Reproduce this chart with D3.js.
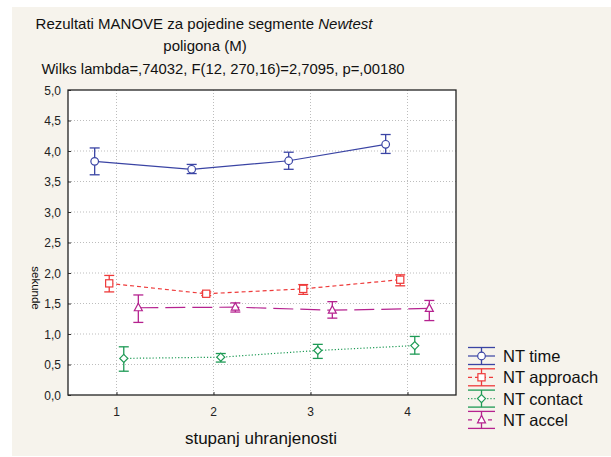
<!DOCTYPE html>
<html>
<head>
<meta charset="utf-8">
<script src="https://cdn.jsdelivr.net/npm/d3@7"></script>
<style>
  body { margin: 0; background: #fff; }
  svg { display: block; font-family: "Liberation Sans", Arial, sans-serif; }
</style>
</head>
<body>
<div id="chart"></div>
<script>
// data
const groups = [1, 2, 3, 4]
const seriesNames = ["NT time", "NT approach", "NT contact", "NT accel"]
const timeMean = [3.83, 3.70, 3.84, 4.11]
const timeLow = [3.61, 3.63, 3.70, 3.96]
const timeHigh = [4.05, 3.78, 3.98, 4.27]
const approachMean = [1.83, 1.66, 1.74, 1.89]
const approachLow = [1.69, 1.63, 1.65, 1.79]
const approachHigh = [1.96, 1.69, 1.81, 1.97]
const contactMean = [0.60, 0.62, 0.73, 0.81]
const contactLow = [0.39, 0.54, 0.60, 0.67]
const contactHigh = [0.79, 0.68, 0.83, 0.96]
const accelMean = [1.43, 1.44, 1.39, 1.42]
const accelLow = [1.19, 1.36, 1.26, 1.22]
const accelHigh = [1.64, 1.51, 1.53, 1.55]
const yTicks = [0, 0.5, 1, 1.5, 2, 2.5, 3, 3.5, 4, 4.5, 5]
const yTickLabels = ["0,0", "0,5", "1,0", "1,5", "2,0", "2,5", "3,0", "3,5", "4,0", "4,5", "5,0"]

const W = 611, H = 457
const plot = {left: 68, top: 90, right: 456, bottom: 395}

const svg = d3.select("#chart").append("svg")
  .attr("width", W).attr("height", H)

// cream panel
svg.append("rect").attr("x", 12).attr("y", 7).attr("width", W - 12).attr("height", 449)
  .attr("fill", "#f6f3ec")

const x = d3.scaleLinear().domain([0.5, 4.5]).range([plot.left, plot.right])
const y = d3.scaleLinear().domain([0, 5]).range([plot.bottom, plot.top])

svg.append("rect")
  .attr("x", plot.left).attr("y", plot.top)
  .attr("width", plot.right - plot.left).attr("height", plot.bottom - plot.top)
  .attr("fill", "#fff")

// grid
svg.append("g").selectAll("line").data(yTicks.slice(1, -1)).join("line")
  .attr("x1", plot.left).attr("x2", plot.right)
  .attr("y1", d => y(d)).attr("y2", d => y(d))
  .attr("stroke", "#bdbdbd").attr("stroke-width", 1).attr("stroke-dasharray", "1,2")
svg.append("g").selectAll("line").data(groups).join("line")
  .attr("y1", plot.top).attr("y2", plot.bottom)
  .attr("x1", d => x(d)).attr("x2", d => x(d))
  .attr("stroke", "#bdbdbd").attr("stroke-width", 1).attr("stroke-dasharray", "1,2")

// axes
const yAxis = svg.append("g").attr("transform", `translate(${plot.left},0)`)
  .call(d3.axisRight(y).tickValues(yTicks).tickSize(3).tickFormat((d, i) => ""))
yAxis.select(".domain").remove()
yAxis.selectAll("line").attr("stroke", "#333")
svg.append("g").selectAll("text").data(yTicks).join("text")
  .attr("x", plot.left - 7).attr("y", d => y(d) + 4.5)
  .attr("text-anchor", "end").attr("font-size", 12).attr("fill", "#222")
  .text((d, i) => yTickLabels[i])

const xAxis = svg.append("g").attr("transform", `translate(0,${plot.bottom})`)
  .call(d3.axisTop(x).tickValues(groups).tickSize(3).tickFormat(""))
xAxis.select(".domain").remove()
xAxis.selectAll("line").attr("stroke", "#333")
svg.append("g").selectAll("text").data(groups).join("text")
  .attr("x", d => x(d)).attr("y", plot.bottom + 21)
  .attr("text-anchor", "middle").attr("font-size", 12).attr("fill", "#222")
  .text(d => d)

svg.append("rect")
  .attr("x", plot.left).attr("y", plot.top)
  .attr("width", plot.right - plot.left).attr("height", plot.bottom - plot.top)
  .attr("fill", "none").attr("stroke", "#222").attr("stroke-width", 1.3)

// titles
const title = svg.append("text").attr("text-anchor", "middle").attr("font-size", 15).attr("fill", "#111")
title.append("tspan").attr("x", 204).attr("y", 29).text("Rezultati MANOVE za pojedine segmente ")
title.append("tspan").attr("font-style", "italic").text("Newtest")
svg.append("text").attr("x", 205).attr("y", 51).attr("text-anchor", "middle")
  .attr("font-size", 15).attr("fill", "#111").text("poligona (M)")
svg.append("text").attr("x", 223).attr("y", 74).attr("text-anchor", "middle")
  .attr("font-size", 14.8).attr("fill", "#111")
  .text("Wilks lambda=,74032, F(12, 270,16)=2,7095, p=,00180")

svg.append("text").attr("x", 261).attr("y", 444).attr("text-anchor", "middle")
  .attr("font-size", 17).attr("fill", "#111").text("stupanj uhranjenosti")
svg.append("text").attr("transform", "translate(32,288) rotate(90)").attr("text-anchor", "middle")
  .attr("font-size", 11.5).attr("fill", "#111").text("sekunde")

// series
const series = [
  {name: seriesNames[0], mean: timeMean, low: timeLow, high: timeHigh, color: "#3a44a4", dash: null, shape: "circle", off: -0.225},
  {name: seriesNames[1], mean: approachMean, low: approachLow, high: approachHigh, color: "#ee3a3a", dash: "4,3", shape: "square", off: -0.075},
  {name: seriesNames[2], mean: contactMean, low: contactLow, high: contactHigh, color: "#1e9a55", dash: "1.2,2", shape: "diamond", off: 0.075},
  {name: seriesNames[3], mean: accelMean, low: accelLow, high: accelHigh, color: "#b5228f", dash: "20,7", shape: "triangle", off: 0.225}
]

function drawMarker(g, shape, cx, cy, color) {
  if (shape == "circle") {
    g.append("circle").attr("cx", cx).attr("cy", cy).attr("r", 3.8)
      .attr("fill", "#fff").attr("stroke", color).attr("stroke-width", 1.2)
  } else if (shape == "square") {
    g.append("rect").attr("x", cx - 3.6).attr("y", cy - 3.6).attr("width", 7.2).attr("height", 7.2)
      .attr("fill", "#fff").attr("stroke", color).attr("stroke-width", 1.2)
  } else if (shape == "diamond") {
    g.append("path").attr("d", `M${cx},${cy - 4}L${cx + 4},${cy}L${cx},${cy + 4}L${cx - 4},${cy}Z`)
      .attr("fill", "#fff").attr("stroke", color).attr("stroke-width", 1.2)
  } else {
    g.append("path").attr("d", `M${cx},${cy - 4.5}L${cx + 4},${cy + 3}L${cx - 4},${cy + 3}Z`)
      .attr("fill", "#fff").attr("stroke", color).attr("stroke-width", 1.2)
  }
}

const line = d3.line()
for (let s of series) {
  const g = svg.append("g")
  const pts = groups.map((grp, i) => [x(grp + s.off), y(s.mean[i])])
  g.append("path").attr("d", line(pts)).attr("fill", "none")
    .attr("stroke", s.color).attr("stroke-width", 1.2)
    .attr("stroke-dasharray", s.dash)
  groups.forEach((grp, i) => {
    const cx = x(grp + s.off)
    g.append("line").attr("x1", cx).attr("x2", cx)
      .attr("y1", y(s.low[i])).attr("y2", y(s.high[i]))
      .attr("stroke", s.color).attr("stroke-width", 1.3)
    for (let v of [s.low[i], s.high[i]]) {
      g.append("line").attr("x1", cx - 5).attr("x2", cx + 5)
        .attr("y1", y(v)).attr("y2", y(v))
        .attr("stroke", s.color).attr("stroke-width", 1.3)
    }
    drawMarker(g, s.shape, cx, y(s.mean[i]), s.color)
  })
}

// legend
series.forEach((s, i) => {
  const cy = 356 + i * 21.3
  const g = svg.append("g")
  g.append("line").attr("x1", 468).attr("x2", 495).attr("y1", cy).attr("y2", cy)
    .attr("stroke", s.color).attr("stroke-width", 1.2).attr("stroke-dasharray", s.dash == "20,7" ? "4,6" : s.dash)
  for (let dy of [-8.5, 8.5]) {
    g.append("line").attr("x1", 468).attr("x2", 495).attr("y1", cy + dy).attr("y2", cy + dy)
      .attr("stroke", s.color).attr("stroke-width", 1.3)
  }
  g.append("line").attr("x1", 481.5).attr("x2", 481.5).attr("y1", cy - 8.5).attr("y2", cy + 8.5)
    .attr("stroke", s.color).attr("stroke-width", 1.3)
  drawMarker(g, s.shape, 481.5, cy, s.color)
  g.append("text").attr("x", 503).attr("y", cy + 6).attr("font-size", 16.5).attr("fill", "#111").text(s.name)
})
</script>
</body>
</html>
